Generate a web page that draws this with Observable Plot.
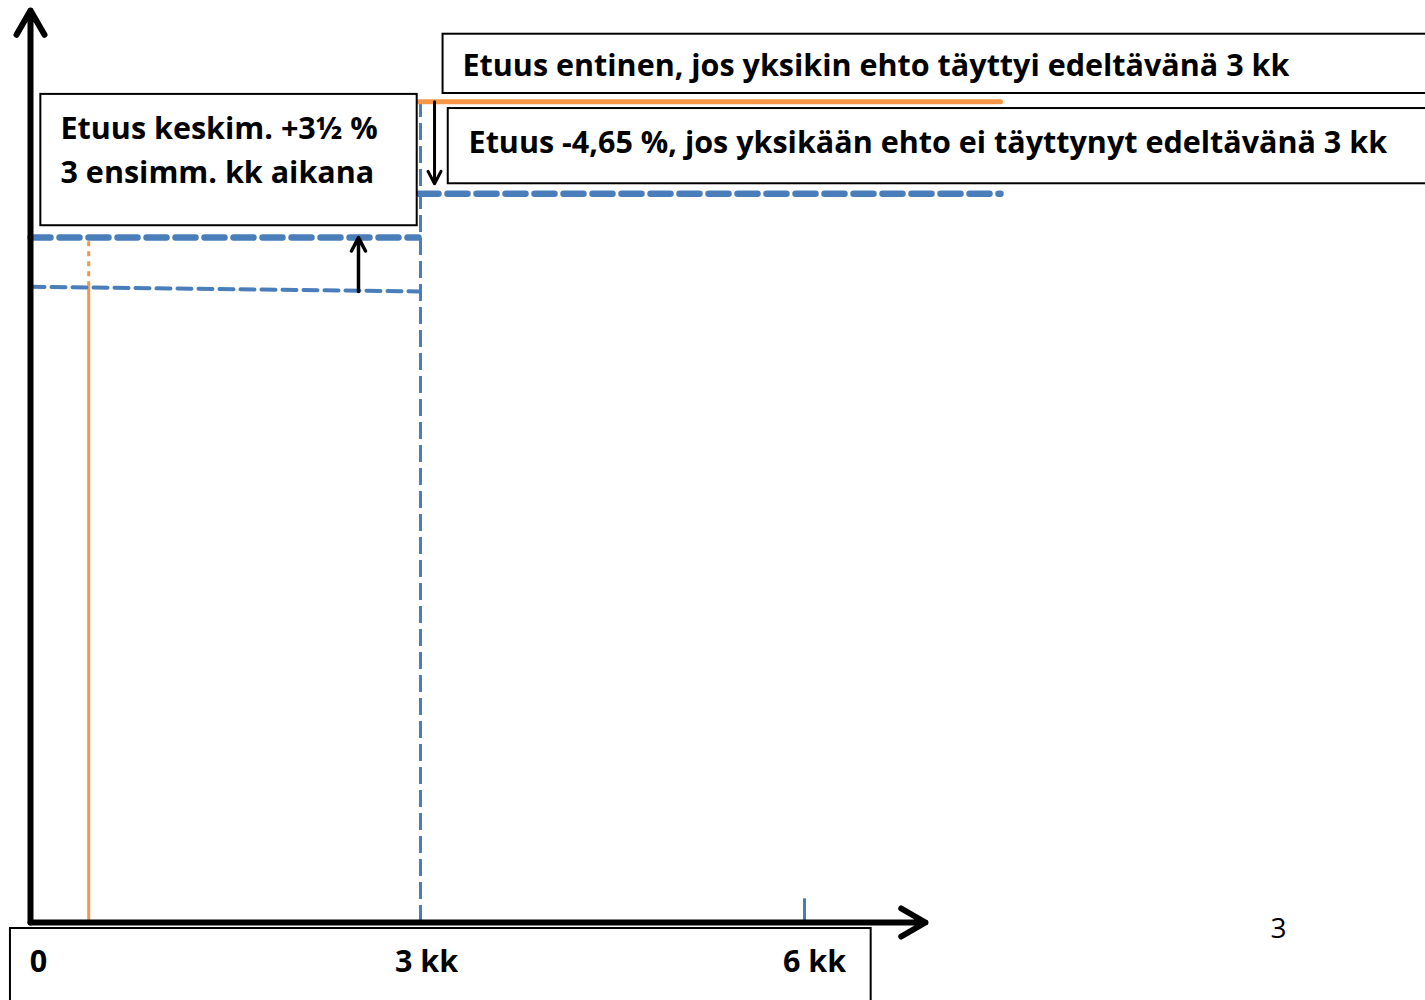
<!DOCTYPE html>
<html>
<head>
<meta charset="utf-8">
<script src="https://cdn.jsdelivr.net/npm/d3@7"></script>
<script src="https://cdn.jsdelivr.net/npm/@observablehq/plot@0.6"></script>
<style>
  html, body { margin: 0; padding: 0; background: #fff; }
  #chart svg { display: block; }
</style>
</head>
<body>
<div id="chart"></div>
<script>
// ---- data ----
const months = [0, 3, 6];
const monthLabels = ["0", "3 kk", "6 kk"];
const benefitStart = 0.45;          // orange vertical: start of benefit
const periodEnd = 7.5;              // end of drawn levels
const baseLevel = [69.7, 69.2];     // original level, months 0..3
const raisedLevel = 75.1;           // +3½ % during first 3 months
const formerLevel = 90.0;           // after 3 kk if a condition met
const reducedLevel = 79.9;          // after 3 kk if no condition met
const boxTexts1 = ["Etuus keskim. +3½ %", "3 ensimm. kk aikana"];
const boxText2 = "Etuus entinen, jos yksikin ehto täyttyi edeltävänä 3 kk";
const boxText3 = "Etuus -4,65 %, jos yksikään ehto ei täyttynyt edeltävänä 3 kk";
const pageNumber = "3";

const blue = "#4a7ebb";
const orange = "#f79646";
const font = "Open Sans";

const baseline = [{m: months[0], v: baseLevel[0]}, {m: months[1], v: baseLevel[1]}];
const raised = [{m: months[0], v: raisedLevel}, {m: months[1], v: raisedLevel}];
const former = [{m: months[1], v: formerLevel}, {m: periodEnd, v: formerLevel}];
const reduced = [{m: months[1], v: reducedLevel}, {m: periodEnd, v: reducedLevel}];
const ticks = months.map((m, i) => ({m, label: monthLabels[i]}));

const boxes = [
  {x1: 0.08, x2: 2.99, y1: 76.4, y2: 90.8},
  {x1: 3.19, x2: 11.2, y1: 90.9, y2: 97.4},
  {x1: 3.23, x2: 11.2, y1: 81.0, y2: 89.25},
  {x1: -0.155, x2: 6.5, y1: -9.5, y2: -0.66}
];

const txt = {fontSize: 30.5, fontWeight: "bold", fontFamily: font, fill: "black"};

const chart = Plot.plot({
  width: 1425,
  height: 1000,
  margin: 0,
  x: {domain: [0, 6], range: [30, 806], axis: null},
  y: {domain: [0, 100], range: [922, 10], axis: null},
  marks: [
    // orange vertical at benefit start
    Plot.ruleX([benefitStart], {y1: 0, y2: baseLevel[0], stroke: orange, strokeWidth: 3}),
    Plot.ruleX([benefitStart], {y1: baseLevel[0], y2: raisedLevel, stroke: orange, strokeWidth: 3, strokeDasharray: "5,5"}),
    // blue dashed vertical at 3 kk
    Plot.ruleX([months[1]], {y1: 0, y2: formerLevel, stroke: blue, strokeWidth: 3, strokeDasharray: "17,6", dx: 2}),
    // 6 kk tick
    Plot.ruleX([months[2]], {y1: 0, y2: 2.6, stroke: blue, strokeWidth: 3, dx: -2}),
    // levels
    Plot.line(baseline, {x: "m", y: "v", stroke: blue, strokeWidth: 4, strokeDasharray: "14,7"}),
    Plot.line(raised, {x: "m", y: "v", stroke: blue, strokeWidth: 6.5, strokeDasharray: "20,9"}),
    Plot.line(reduced, {x: "m", y: "v", stroke: blue, strokeWidth: 6.5, strokeDasharray: "20,9"}),
    Plot.line(former, {x: "m", y: "v", stroke: orange, strokeWidth: 5}),
    // change arrows
    Plot.arrow([0], {x1: 2.536, y1: baseLevel[1], x2: 2.536, y2: raisedLevel, stroke: "black", strokeWidth: 3.5, headLength: 6.5, headAngle: 55}),
    Plot.arrow([0], {x1: 3.124, y1: formerLevel, x2: 3.124, y2: 81.0, stroke: "black", strokeWidth: 3, headLength: 7, headAngle: 55}),
    // axes
    Plot.arrow([0], {x1: 0, y1: 0, x2: 0, y2: 100, stroke: "black", strokeWidth: 6, headLength: 7, headAngle: 60}),
    Plot.arrow([0], {x1: 0, y1: 0, x2: 6.92, y2: 0, stroke: "black", strokeWidth: 6, headLength: 7, headAngle: 60}),
    // boxes
    Plot.rect(boxes, {x1: "x1", x2: "x2", y1: "y1", y2: "y2", fill: "white", stroke: "black", strokeWidth: 2}),
    // texts
    Plot.text(boxTexts1, {x: 0.232, y: (d, i) => i === 0 ? 87.0 : 82.2, text: d => d, textAnchor: "start", ...txt}),
    Plot.text([boxText2], {x: 3.34, y: 93.86, text: d => d, textAnchor: "start", ...txt}),
    Plot.text([boxText3], {x: 3.387, y: 85.4, text: d => d, textAnchor: "start", ...txt}),
    Plot.text(ticks, {x: "m", y: -4.4, text: "label", dx: 8, ...txt}),
    Plot.text([pageNumber], {x: 9.65, y: -0.7, text: d => d, fontSize: 28, fontFamily: font, fill: "black"})
  ]
});
document.getElementById("chart").appendChild(chart);
</script>
</body>
</html>
